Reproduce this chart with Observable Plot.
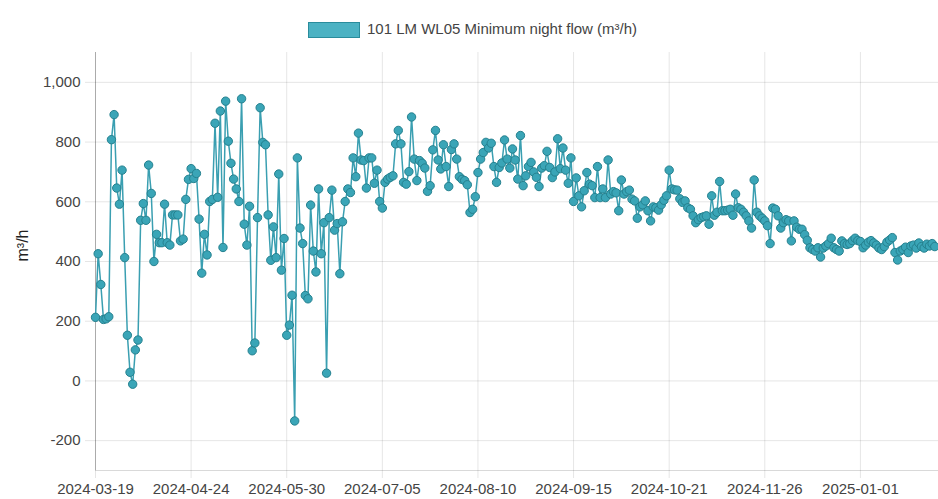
<!DOCTYPE html>
<html><head><meta charset="utf-8">
<script src="https://cdn.jsdelivr.net/npm/d3@7"></script>
<script src="https://cdn.jsdelivr.net/npm/@observablehq/plot@0.6"></script>
<style>
body{margin:0;background:#fff;font-family:"Liberation Sans",Arial,sans-serif;}
#wrap{position:relative;width:938px;height:499px;overflow:hidden;background:#fff}
#legend{position:relative;height:40px}
#legend .box{position:absolute;left:308px;top:22px;width:50px;height:14px;background:#4cb2c3;border:1.5px solid #2a8c9c;box-sizing:content-box}
#legend .txt{position:absolute;left:367px;top:20px;font-size:15px;color:#444;white-space:nowrap}
</style></head>
<body><div id="wrap"><div id="legend"><div class="box"></div><div class="txt" id="legtxt"></div></div><div id="chart"></div></div>
<script>
const startDate = "2024-03-19";
const seriesName = "101 LM WL05 Minimum night flow (m³/h)";
const yLabel = "m³/h";
const xTickLabels = ["2024-03-19","2024-04-24","2024-05-30","2024-07-05","2024-08-10","2024-09-15","2024-10-21","2024-11-26","2025-01-01"];
const yTicks = [-200,0,200,400,600,800,1000];
const flow = [
213,426,323,206,208,215,808,892,646,592,
706,413,153,29,-11,104,137,538,594,538,
723,628,400,491,463,463,592,463,455,556,
556,556,469,475,608,675,711,678,695,542,
361,491,422,601,608,863,615,904,447,937,
803,729,676,643,601,945,525,455,585,101,
127,547,915,799,791,556,404,516,413,693,
371,477,153,187,287,-134,747,512,460,286,
275,589,435,365,643,426,530,26,547,639,
505,527,359,533,601,643,631,747,684,830,
740,738,646,747,747,662,706,601,579,665,
676,682,687,794,839,794,665,659,701,884,
743,671,738,729,713,635,654,774,839,740,
710,791,718,651,775,794,743,684,675,671,
657,564,575,617,698,743,765,799,780,796,
718,665,715,730,807,743,713,777,740,676,
822,654,687,718,732,700,682,651,713,721,
769,715,681,700,811,711,780,706,662,747,
601,680,620,583,637,698,659,654,614,718,
614,643,614,740,626,634,630,570,673,626,
634,639,609,603,545,583,590,603,570,536,
583,580,572,590,605,620,706,643,640,639,
610,598,603,580,575,553,530,540,547,550,
553,525,620,555,565,668,570,570,572,575,
555,626,580,575,565,553,536,512,673,565,
553,545,536,520,460,579,575,553,512,530,
540,536,469,536,515,508,508,490,471,446,
440,435,446,415,445,452,460,478,446,440,
435,469,460,457,460,470,478,470,467,446,
455,465,470,462,455,445,440,450,465,472,
480,430,405,435,440,448,430,452,455,445,
462,450,445,458,452,460,450
];

document.getElementById("legtxt").textContent = seriesName;
const day = 864e5;
const t0 = new Date(startDate + "T00:00:00Z");
const data = flow.map((v, i) => ({date: new Date(+t0 + i * day), value: v}));
const xTicks = xTickLabels.map(s => new Date(s + "T00:00:00Z"));
const fmt = d3.utcFormat("%Y-%m-%d");
const yFmt = d => d.toLocaleString("en-US");

const chart = Plot.plot({
  width: 938, height: 459,
  marginLeft: 95, marginRight: 0, marginTop: 12, marginBottom: 29,
  style: {fontFamily: "Liberation Sans, Arial, sans-serif", fontSize: "15px", color: "#444", background: "#fff"},
  x: {type: "utc", domain: [t0, new Date(+t0 + 317.4 * day)]},
  y: {domain: [-300, 1100]},
  marks: [
    Plot.gridX(xTicks, {stroke: "#000", strokeOpacity: 0.1}),
    Plot.gridY(yTicks, {stroke: "#000", strokeOpacity: 0.1}),
    Plot.axisX(xTicks, {tickFormat: fmt, tickSize: 8, tickPadding: 5, stroke: "#000", strokeOpacity: 0.1, fill: "#444", label: null}),
    Plot.axisY(yTicks, {tickFormat: yFmt, tickSize: 10, tickPadding: 5, stroke: "#000", strokeOpacity: 0.1, fill: "#444", label: null}),
    Plot.ruleX([t0], {stroke: "#000", strokeOpacity: 0.25}),
    Plot.ruleY([-300], {stroke: "#000", strokeOpacity: 0.15}),
    Plot.text([yLabel], {text: d => d, frameAnchor: "left", rotate: -90, dx: -73, fontSize: 16, fill: "#222"}),
    Plot.line(data, {x: "date", y: "value", stroke: "#3a9fb1", strokeWidth: 1.5}),
    Plot.dot(data, {x: "date", y: "value", r: 4.2, fill: "#3aa5b7", stroke: "#25818f", strokeWidth: 1})
  ]
});
document.getElementById("chart").appendChild(chart);
</script>
</body></html>
